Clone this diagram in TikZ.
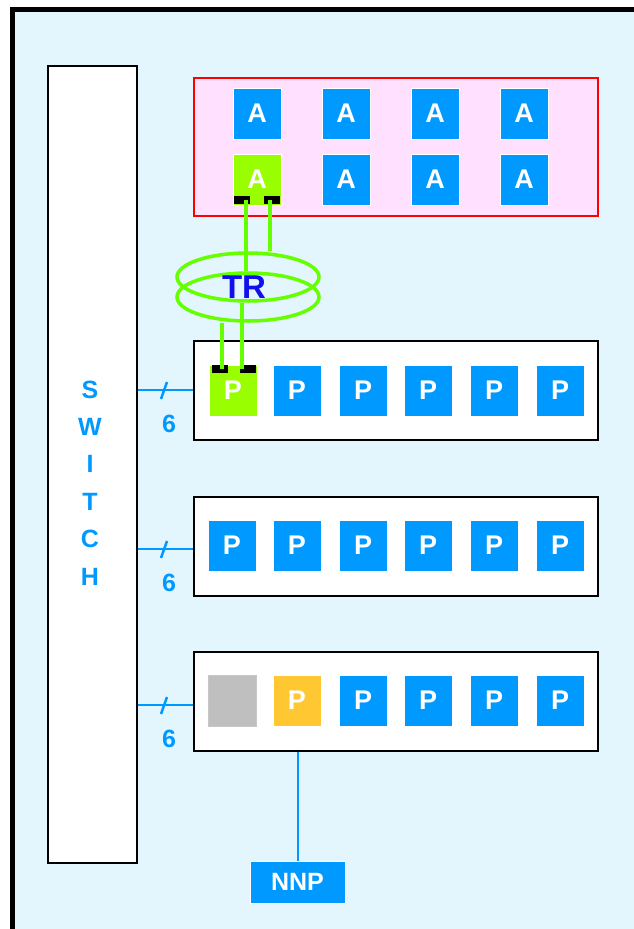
\documentclass[tikz,border=0pt]{standalone}
\usepackage{fontspec}
\setmainfont{Liberation Sans}
\usetikzlibrary{shapes.geometric}

\definecolor{skyfill}{HTML}{E3F6FE}
\definecolor{pblue}{HTML}{0099FF}
\definecolor{lime}{HTML}{99FF00}
\definecolor{tubegreen}{HTML}{66FF00}
\definecolor{pinkfill}{HTML}{FFE0FF}
\definecolor{trblue}{HTML}{1010EE}
\definecolor{amber}{HTML}{FFC833}

\tikzset{
  sq/.style={draw=white, line width=0.8pt, minimum width=48pt, minimum height=51pt, inner sep=0pt,
    text=white, font=\bfseries\fontsize{27}{27}\selectfont},
  bluesq/.style={sq, fill=pblue},
  greensq/.style={sq, fill=lime},
  pad/.style={fill=black, minimum width=16pt, minimum height=8pt, inner sep=0pt},
  tube/.style={draw=tubegreen, line width=3.5pt},
  ring/.style={ellipse, draw=tubegreen, line width=3.5pt, minimum width=142pt, minimum height=48pt},
  pgroup/.style={draw=black, fill=white, line width=2pt, minimum width=404pt, minimum height=99pt},
  link/.style={draw=pblue, line width=2pt},
  swlabel/.style={text=pblue, font=\bfseries\fontsize{25}{25}\selectfont},
}

\begin{document}
\begin{tikzpicture}[x=1pt, y=-1pt]
\useasboundingbox (0,0) rectangle (634,929);
% frame
\fill[skyfill] (12,9) rectangle (634,929);
\draw[line width=5pt] (12,929) -- (12,9) -- (634,9);

% switch
\node[draw=black, fill=white, line width=2pt, minimum width=89pt, minimum height=797pt] (switch) at (92.5,464.5) {};
\foreach \l [count=\i] in {S,W,I,T,C,H}
  \node[swlabel] (sw\i) at (90,352+37.4*\i) {\l};

% A group
\node[draw=red, fill=pinkfill, line width=2pt, minimum width=404pt, minimum height=138pt] (agroup) at (396,147) {};
\foreach \x [count=\i] in {257,346,435,524}
  \node[bluesq] (atop\i) at (\x,113.5) {A};
\foreach \x [count=\i from 2] in {346,435,524}
  \node[bluesq] (abot\i) at (\x,179.5) {A};
\node[greensq] (abot1) at (257,179.5) {A};
\node[pad] (apadl) at (242,200) {};
\node[pad] (apadr) at (272,200) {};

% TR
\node[ring] (ringlow) at (248,297) {};
\node[ring] (ringup) at (248,277) {};
\node[text=trblue, font=\bfseries\fontsize{33}{33}\selectfont] (tr) at (244,287) {TR};

% P rows
\foreach \y [count=\r] in {390.5,546,701}
  \node[pgroup] (row\r) at (396,\y) {};
\foreach \x [count=\i] in {297,363,428,494,560} {
  \node[bluesq] (pa\i) at (\x,390.5) {P};
  \node[bluesq] (pb\i) at (\x,545.5) {P};
}
\foreach \x [count=\i from 3] in {363,428,494,560}
  \node[bluesq] (pc\i) at (\x,700.5) {P};
\node[greensq] (pa0) at (233,390.5) {P};
\node[bluesq] (pb0) at (232,545.5) {P};
\node[sq, fill=black!25, draw=black!22] (pc1) at (232,700.5) {};
\node[sq, fill=amber] (pc2) at (297,700.5) {P};
\node[pad] (ppadl) at (219.5,369) {};
\node[pad] (ppadr) at (248,369) {};

\draw[tube] ([xshift=4pt]apadl.center) -- ([xshift=4pt]apadl.center |- ringlow.north);
\draw[tube] ([xshift=-2pt]apadr.center) -- ([xshift=-2pt]apadr.center |- ringup.north);
\draw[tube] ([xshift=2.5pt]ppadl.center |- ringlow.south) -- ([xshift=2.5pt]ppadl.center);
\draw[tube] ([xshift=-6pt]ppadr.center |- ringup.south) -- ([xshift=-6pt]ppadr.center);

% links to switch
\foreach \y [count=\r] in {390,549,705} {
  \draw[link] (switch.east |- 0,\y) -- (row\r.west |- 0,\y);
  \draw[link, line width=2.5pt] (161,\y+9) -- (167,\y-8);
  \node[swlabel] (n\r) at (169,\y+34) {6};
}

% NNP
\node[bluesq, minimum width=95pt, minimum height=42pt, font=\bfseries\fontsize{25}{25}\selectfont] (nnp) at (297.5,882) {NNP};
\draw[link] (row3.south -| nnp.north) -- (nnp.north);

\end{tikzpicture}
\end{document}
